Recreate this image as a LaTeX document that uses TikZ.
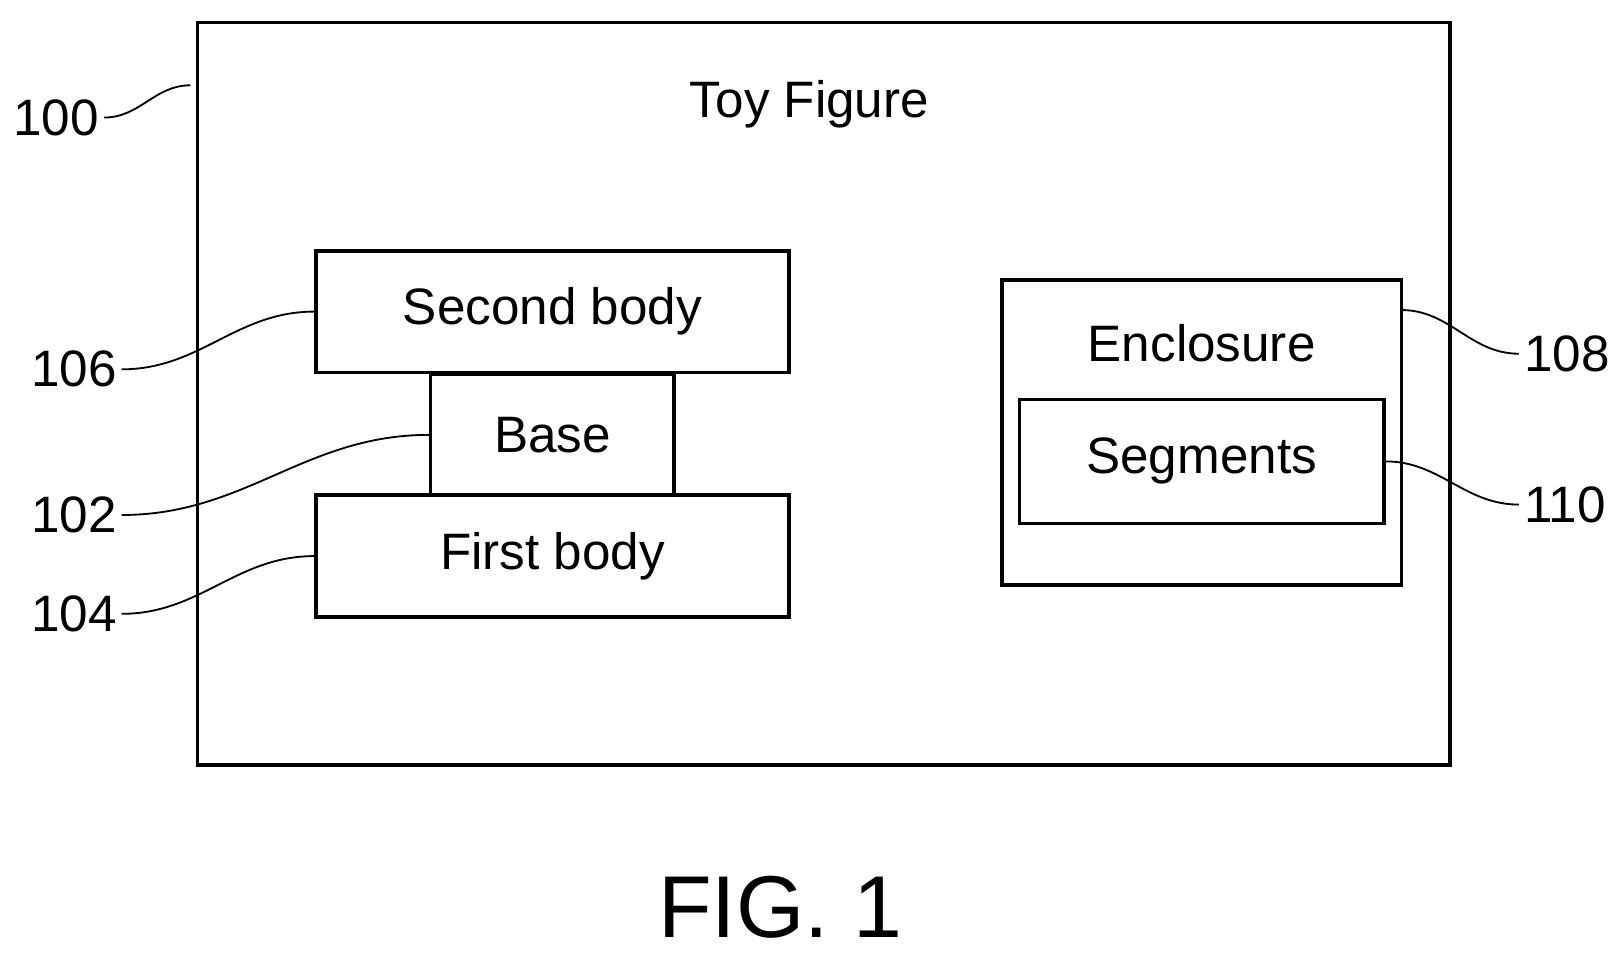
\documentclass[tikz,border=0pt]{standalone}
\usepackage{fontspec}
\setmainfont{Liberation Sans}
\begin{document}
\begin{tikzpicture}[x=0.01cm, y=-0.01cm, thick,
  box/.style={draw, line width=1pt, inner sep=0pt},
  txt/.style={font=\fontsize{14}{17}\selectfont},
  lead/.style={line width=0.5pt}]
        \useasboundingbox (0,0) rectangle (1560,918);
        % Boxes
        \node (figure) [box, minimum width=12.03cm, minimum height=7.13cm, anchor=north west] at (188,20) {};
        \node (title) [txt] at (778,100) {Toy Figure};
        \node (second) [box, txt, minimum width=4.54cm, minimum height=1.17cm] at (531,299.5) {Second body};
        \node (base) [box, txt, minimum width=2.34cm, minimum height=1.16cm] at (531,418) {Base};
        \node (first) [box, txt, minimum width=4.54cm, minimum height=1.17cm] at (531,534.5) {First body};
        \node (encl) [box, minimum width=3.84cm, minimum height=2.93cm] at (1155,415.5) {};
        \node (encltxt) [txt] at (1155,330) {Enclosure};
        \node (seg) [box, txt, minimum width=3.5cm, minimum height=1.19cm] at (1155,443.5) {Segments};
        \coordinate (enclpin) at (1347,298);
        \coordinate (figpin) at (183,82);

        % Reference numerals
        \node (n100) [txt, anchor=east, inner sep=1pt] at (100,113) {100};
        \node (n106) [txt, anchor=east, inner sep=1pt] at (117,355) {106};
        \node (n102) [txt, anchor=east, inner sep=1pt] at (117,495) {102};
        \node (n104) [txt, anchor=east, inner sep=1pt] at (117,590) {104};
        \node (n108) [txt, anchor=west, inner sep=1pt] at (1460,340) {108};
        \node (n110) [txt, anchor=west, inner sep=1pt] at (1460,485) {110};
        \node (fig) [font=\fontsize{24}{28}\selectfont] at (750,872) {FIG. 1};

        % Leaders
        \draw[lead] (n100.east) to[out=0, in=180] (figpin);
        \draw[lead] (n106.east) to[out=0, in=180] (second.west);
        \draw[lead] (n102.east) to[out=0, in=180] (base.west);
        \draw[lead] (n104.east) to[out=0, in=180] (first.west);
        \draw[lead] (n108.west) to[out=180, in=0] (enclpin);
        \draw[lead] (n110.west) to[out=180, in=0] (seg.east);
    \end{tikzpicture}
\end{document}
